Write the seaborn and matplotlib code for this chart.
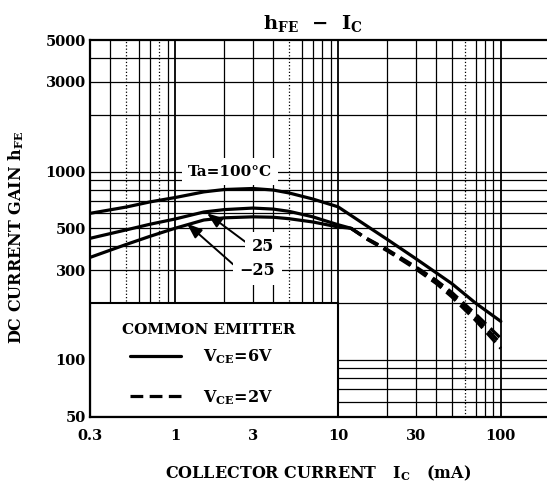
import numpy as np
import matplotlib
matplotlib.use("Agg")
import matplotlib.pyplot as plt
import seaborn as sns
from matplotlib.lines import Line2D
from matplotlib.patches import Rectangle

# ─────────────────────────────────────────────
# DATA
# ─────────────────────────────────────────────
# VCE = 6V, solid
ic_100 = [0.3, 0.5, 0.7, 1, 1.5, 2, 3, 4, 5, 7, 10, 15, 20, 30, 50, 70, 100]
hfe_100 = [600, 648, 690, 728, 780, 803, 813, 798, 770, 715, 650, 515, 437, 345, 254, 200, 160]

ic_25 = [0.3, 0.5, 0.7, 1, 1.5, 2, 3, 4, 5, 7, 10, 12]
hfe_25 = [442, 490, 525, 560, 610, 628, 640, 632, 615, 575, 522, 500]

ic_m25 = [0.3, 0.5, 0.7, 1, 1.5, 2, 3, 4, 5, 7, 10, 12]
hfe_m25 = [350, 410, 453, 500, 553, 568, 575, 572, 562, 540, 508, 500]

# VCE = 2V, dashed
ic_2v = [12, 15, 20, 30, 40, 50, 70, 100]
hfe_2v_a = [500, 442, 386, 312, 265, 228, 175, 130]
hfe_2v_b = [500, 440, 383, 308, 260, 222, 168, 122]
hfe_2v_c = [500, 438, 380, 304, 255, 216, 162, 115]

x_ticks = [0.3, 1, 3, 10, 30, 100]
x_tick_labels = ["0.3", "1", "3", "10", "30", "100"]
y_ticks = [50, 100, 300, 500, 1000, 3000, 5000]
y_tick_labels = ["50", "100", "300", "500", "1000", "3000", "5000"]

# log-paper grid
v_grid = [0.4, 0.5, 0.6, 0.7, 0.8, 0.9, 1, 2, 3, 4, 5, 6, 7, 8, 9,
          10, 20, 30, 40, 50, 60, 70, 80, 90, 100]
v_dotted = [0.5, 0.8, 5, 60]
h_grid = [60, 70, 80, 90, 100, 200, 300, 400, 500, 600, 700, 800, 900,
          1000, 2000, 3000, 4000]

# ─────────────────────────────────────────────
# STYLE
# ─────────────────────────────────────────────
sns.set_theme(style="white")
plt.rcParams["font.family"] = ["DejaVu Serif"]
plt.rcParams["font.weight"] = "bold"
plt.rcParams["mathtext.fontset"] = "dejavuserif"
plt.rcParams["text.color"] = "black"
plt.rcParams["axes.labelcolor"] = "black"
plt.rcParams["xtick.color"] = "black"
plt.rcParams["ytick.color"] = "black"

fig = plt.figure(figsize=(5.47, 4.83), dpi=100)
ax = fig.add_axes([90 / 547, 1 - 416.5 / 483, 457 / 547, 376.5 / 483])

ax.set_xscale("log")
ax.set_yscale("log")

# grid
for v in v_grid:
    ls = ":" if v in v_dotted else "-"
    lw = 1.3 if v in (1, 10, 100) else 0.9
    ax.axvline(v, color="black", lw=lw, ls=ls, zorder=0.5)
for h in h_grid:
    ax.axhline(h, color="black", lw=0.9, zorder=0.5)

# blank box holding the legend
ax.add_patch(Rectangle((0.3, 50), 10 - 0.3, 200 - 50, facecolor="white",
                       edgecolor="black", lw=1.5, zorder=1))

# curves
lw_curve = 2.3
sns.lineplot(x=ic_100, y=hfe_100, ax=ax, color="black", lw=lw_curve, zorder=3)
sns.lineplot(x=ic_25, y=hfe_25, ax=ax, color="black", lw=lw_curve, zorder=3)
sns.lineplot(x=ic_m25, y=hfe_m25, ax=ax, color="black", lw=lw_curve, zorder=3)
for hv in (hfe_2v_a, hfe_2v_b, hfe_2v_c):
    sns.lineplot(x=ic_2v, y=hv, ax=ax, color="black", lw=lw_curve,
                 linestyle=(0, (4, 2)), zorder=3)

ax.set_xlim(0.3, 192)
ax.set_ylim(50, 5000)

# curve labels
box = dict(boxstyle="square,pad=0.4", fc="white", ec="none")
ax.text(2.18, 1000, "Ta=100°C", fontsize=11, ha="center", va="center",
        bbox=box, zorder=2.5)
arrow = dict(arrowstyle="-|>,head_length=0.8,head_width=0.3", color="black",
             lw=1.4, shrinkA=0, shrinkB=0, relpos=(0, 0.5))
ax.annotate("25", xy=(1.57, 600), xytext=(3.45, 400), fontsize=11.5,
            ha="center", va="center", bbox=box, arrowprops=arrow, zorder=2.6)
ax.annotate("−25", xy=(1.18, 530), xytext=(3.2, 300), fontsize=11.5,
            ha="center", va="center", bbox=box, arrowprops=arrow, zorder=2.6)

# legend inside the blank box
ax.text(0.26, 0.2297, "COMMON EMITTER", transform=ax.transAxes, fontsize=11,
        ha="center", va="center", zorder=4)
handles = [Line2D([], [], color="black", lw=lw_curve),
           Line2D([], [], color="black", lw=lw_curve, linestyle=(0, (4, 2)))]
leg = ax.legend(handles, ["V$_\\mathbf{CE}$=6V", "V$_\\mathbf{CE}$=2V"],
                loc="upper left", bbox_to_anchor=(0.0875, 0.183),
                frameon=False, fontsize=11.5, handlelength=3.2,
                handletextpad=1.4, labelspacing=1.35, borderpad=0,
                borderaxespad=0)
leg.set_zorder(4)

# axes cosmetics
ax.set_xticks(x_ticks)
ax.set_xticklabels(x_tick_labels)
ax.set_yticks(y_ticks)
ax.set_yticklabels(y_tick_labels)
ax.minorticks_off()
ax.tick_params(axis="x", length=0, pad=9, labelsize=10.5)
ax.tick_params(axis="y", length=0, pad=3, labelsize=10.5)

for side in ("left", "bottom", "top"):
    ax.spines[side].set_color("black")
    ax.spines[side].set_linewidth(1.6)
ax.spines["right"].set_visible(False)

ax.set_title("h$_\\mathbf{FE}$  −  I$_\\mathbf{C}$", fontsize=14,
             fontweight="bold", x=(313 - 90) / 457, pad=8)
ax.set_xlabel("COLLECTOR CURRENT   I$_\\mathbf{C}$   (mA)", fontsize=11.5,
              fontweight="bold")
ax.set_ylabel("DC CURRENT GAIN h$_\\mathbf{FE}$", fontsize=11.5,
              fontweight="bold")
ax.xaxis.set_label_coords(0.5, -0.126)
ax.yaxis.set_label_coords((26 - 90) / 457, 0.475)

fig.savefig("out.png", dpi=100)
